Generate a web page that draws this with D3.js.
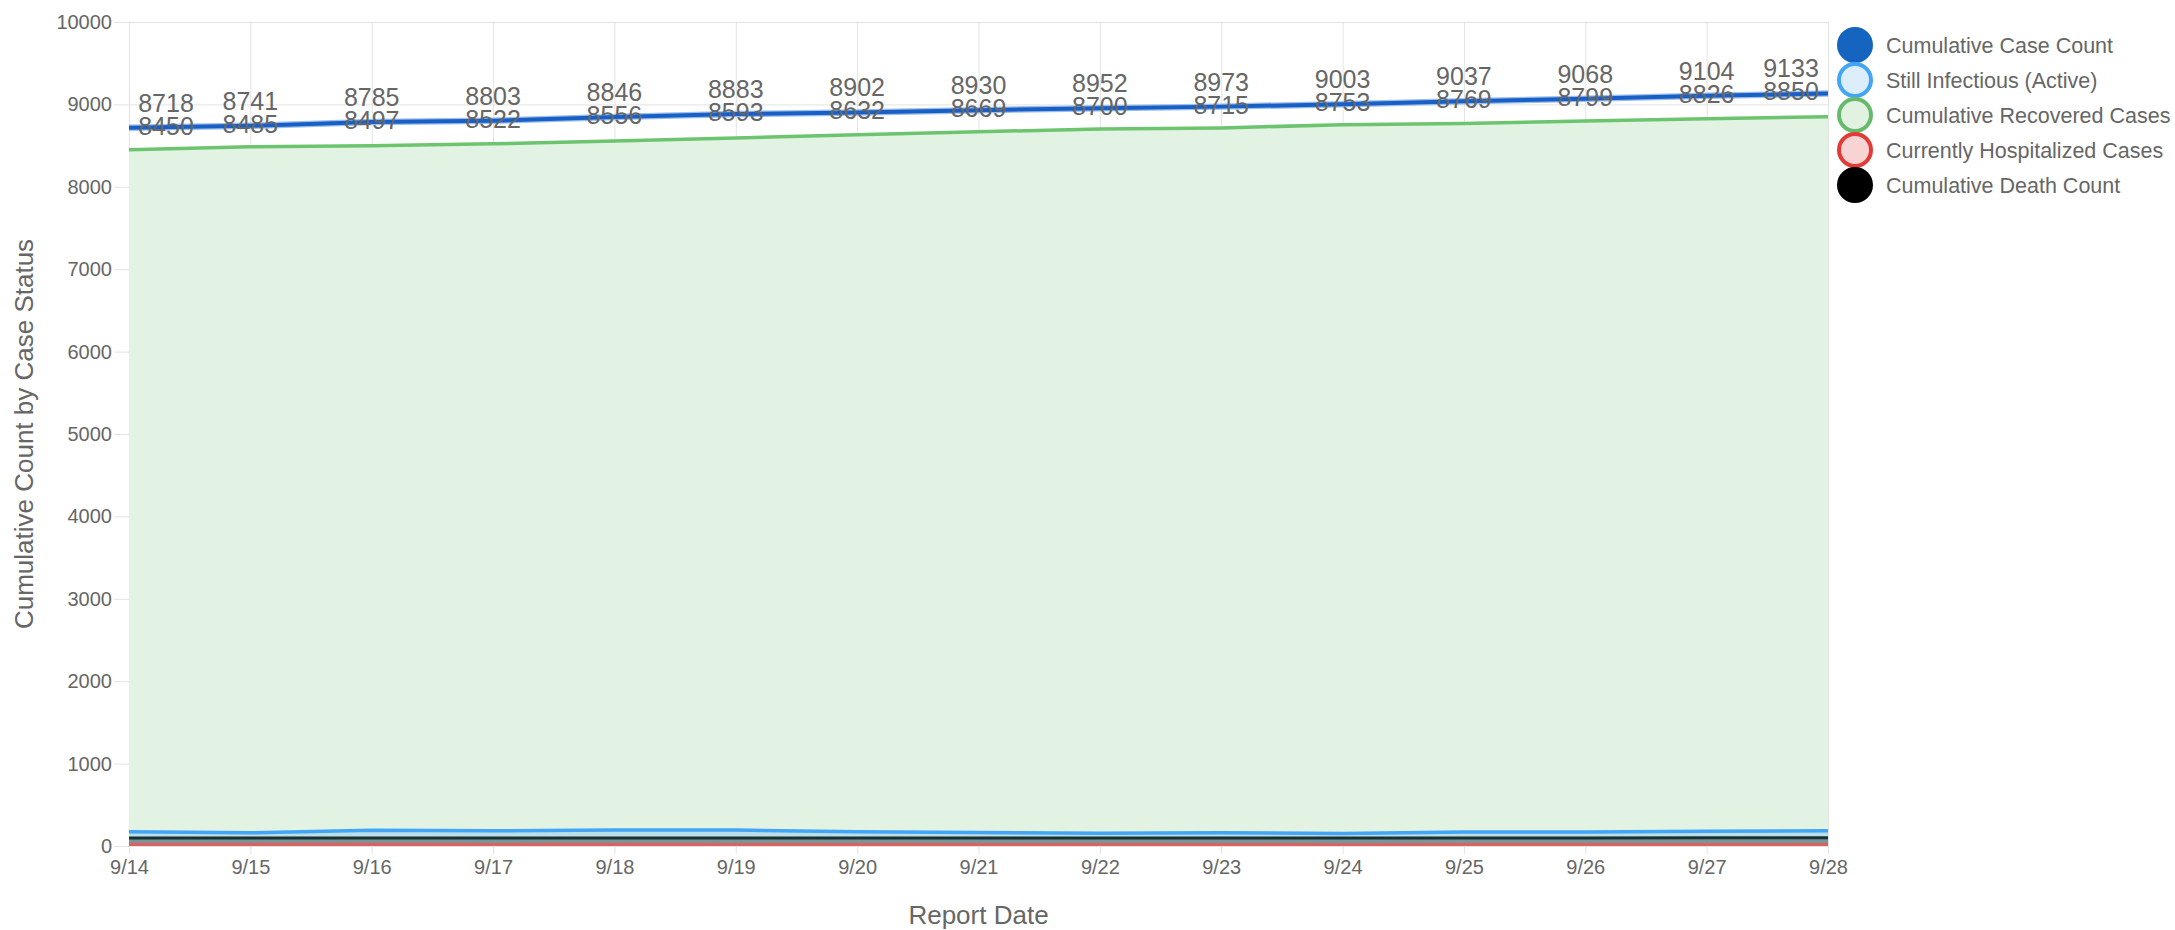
<!DOCTYPE html>
<html><head><meta charset="utf-8">
<script src="https://cdn.jsdelivr.net/npm/d3@7"></script>
<style>body{margin:0;background:#fff;} text{font-family:"Liberation Sans",Arial,sans-serif;}</style>
</head><body><svg id="c" width="2175" height="930"></svg>
<script>
const dates = ["9/14","9/15","9/16","9/17","9/18","9/19","9/20","9/21","9/22","9/23","9/24","9/25","9/26","9/27","9/28"];
const caseCount = [8718,8741,8785,8803,8846,8883,8902,8930,8952,8973,9003,9037,9068,9104,9133];
const recovered = [8450,8485,8497,8522,8556,8593,8632,8669,8700,8715,8753,8769,8799,8826,8850];
const active = [172,160,192,184,193,193,173,163,154,160,152,170,171,179,184];
const hospitalized = [22,20,21,19,20,18,18,17,17,18,16,17,18,17,18];
const deaths = [96,96,96,97,97,97,97,98,98,98,98,98,98,99,99];
const yTicks = [0,1000,2000,3000,4000,5000,6000,7000,8000,9000,10000];
const legendItems = [
  {name:"Cumulative Case Count", stroke:"#1565c0", fill:"#1565c0"},
  {name:"Still Infectious (Active)", stroke:"#42a5f5", fill:"#dcedfc"},
  {name:"Cumulative Recovered Cases", stroke:"#66bb6a", fill:"#e1f2e1"},
  {name:"Currently Hospitalized Cases", stroke:"#e53935", fill:"#f8d3d3"},
  {name:"Cumulative Death Count", stroke:"#000000", fill:"#000000"}
];

const svg = d3.select("#c");
const L = 129, R = 1828, T = 22, B = 846;
const x = d3.scalePoint().domain(dates).range([L, R]);
const y = d3.scaleLinear().domain([0, 10000]).range([B, T]);
const grey = "#666";

// grid
const gx = svg.append("g").attr("transform", `translate(0,${B})`)
  .call(d3.axisBottom(x).tickSize(-(B - T)).tickPadding(14));
gx.select(".domain").remove();
gx.selectAll("line").attr("stroke", "#e3e3e3").attr("y2", -(B - T)).attr("y1", 8);
gx.selectAll("text").attr("font-size", 20).attr("fill", grey);

const gy = svg.append("g").attr("transform", `translate(${L},0)`)
  .call(d3.axisLeft(y).tickValues(yTicks).tickFormat(d3.format("d")).tickSize(0).tickPadding(17));
gy.select(".domain").remove();
gy.selectAll(".tick line").attr("stroke", "#e3e3e3").attr("x1", -15).attr("x2", R - L);
gy.selectAll("text").attr("font-size", 20).attr("fill", grey);

svg.append("defs").append("clipPath").attr("id", "clip")
  .append("rect").attr("x", L).attr("y", T - 10).attr("width", R - L).attr("height", B - T + 10);
const plot = svg.append("g").attr("clip-path", "url(#clip)");

const idx = dates.map((d, i) => i);
const area = arr => d3.area().x(i => x(dates[i])).y0(y(0)).y1(i => y(arr[i]));
const line = arr => d3.line().x(i => x(dates[i])).y(i => y(arr[i]));

plot.append("path").datum(idx).attr("d", area(recovered)).attr("fill", "#e2f3e4");
plot.append("path").datum(idx).attr("d", area(active)).attr("fill", "rgba(66,165,245,0.25)");
plot.append("path").datum(idx).attr("d", area(deaths)).attr("fill", "rgba(60,90,90,0.55)");
plot.append("path").datum(idx).attr("d", area(hospitalized)).attr("fill", "rgba(229,57,53,0.35)");

plot.append("path").datum(idx).attr("d", line(hospitalized)).attr("fill", "none").attr("stroke", "#e06060").attr("stroke-width", 3);
plot.append("path").datum(idx).attr("d", line(deaths)).attr("fill", "none").attr("stroke", "#1b3030").attr("stroke-width", 3);
plot.append("path").datum(idx).attr("d", line(active)).attr("fill", "none").attr("stroke", "#42a5f5").attr("stroke-width", 3.5);
plot.append("path").datum(idx).attr("d", line(recovered)).attr("fill", "none").attr("stroke", "#6cc46e").attr("stroke-width", 3.5);
plot.append("path").datum(idx).attr("d", line(caseCount)).attr("fill", "none").attr("stroke", "#9cc0ec").attr("stroke-width", 6.5);
plot.append("path").datum(idx).attr("d", line(caseCount)).attr("fill", "none").attr("stroke", "#1a5fc6").attr("stroke-width", 4);

// data labels: recovered value sits on the case line, case value above it
const labels = svg.append("g").attr("font-size", 25).attr("fill", grey).attr("text-anchor", "middle");
const halfW = 29;
function lx(i) { return Math.max(L + 8 + halfW, Math.min(R - 8 - halfW, x(dates[i]))); }
idx.forEach(i => {
  const cy = y(caseCount[i]);
  labels.append("text").attr("x", lx(i)).attr("y", cy - 2).attr("dy", "0.36em").text(recovered[i]);
  labels.append("text").attr("x", lx(i)).attr("y", cy - 25).attr("dy", "0.36em").text(caseCount[i]);
});

// axis titles
svg.append("text").attr("x", (L + R) / 2).attr("y", 924).attr("text-anchor", "middle")
  .attr("font-size", 26).attr("fill", grey).text("Report Date");
svg.append("text").attr("transform", `translate(33,${(T + B) / 2}) rotate(-90)`).attr("text-anchor", "middle")
  .attr("font-size", 26).attr("fill", grey).text("Cumulative Count by Case Status");

// legend
const lg = svg.append("g");
legendItems.forEach((it, i) => {
  const cy = 45 + 35 * i;
  lg.append("circle").attr("cx", 1855).attr("cy", cy).attr("r", 16)
    .attr("fill", it.fill).attr("stroke", it.stroke).attr("stroke-width", 4);
  lg.append("text").attr("x", 1886).attr("y", cy).attr("dy", "0.35em")
    .attr("font-size", 21.5).attr("fill", grey).text(it.name);
});
</script></body></html>
